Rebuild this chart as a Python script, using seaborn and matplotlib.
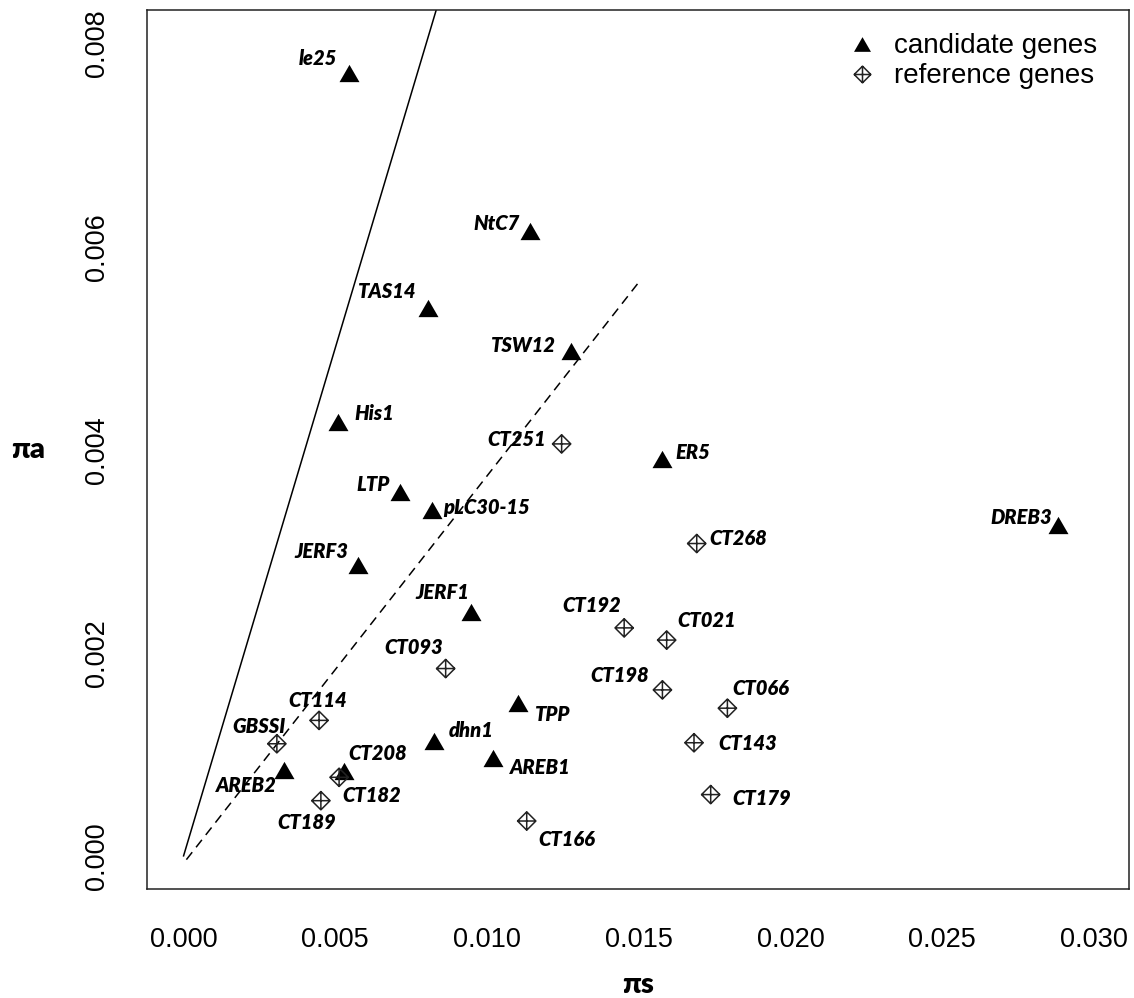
import matplotlib
matplotlib.use("Agg")
import matplotlib.pyplot as plt
from matplotlib.path import Path
from matplotlib.lines import Line2D
import seaborn as sns

# Nucleotide diversity at synonymous (pi_s) and non-synonymous (pi_a) sites
candidate_genes = ["le25", "NtC7", "TAS14", "TSW12", "His1", "LTP", "pLC30-15", "JERF3",
                   "JERF1", "ER5", "DREB3", "TPP", "dhn1", "AREB1", "AREB2", "CT208"]
candidate_pi_s = [0.00544, 0.01142, 0.00805, 0.01277, 0.00509, 0.00714, 0.00818, 0.00574,
                  0.00948, 0.01576, 0.02882, 0.01101, 0.00824, 0.01021, 0.00332, 0.00529]
candidate_pi_a = [0.00771, 0.00615, 0.00540, 0.00497, 0.00428, 0.00359, 0.00341, 0.00287,
                  0.00241, 0.00391, 0.00326, 0.00151, 0.00114, 0.00097, 0.00085, 0.00084]

reference_genes = ["CT251", "CT268", "CT192", "CT021", "CT093", "CT198", "CT066", "CT114",
                   "CT143", "GBSSI", "CT182", "CT179", "CT189", "CT166"]
reference_pi_s = [0.01246, 0.01691, 0.01452, 0.01592, 0.00864, 0.01578, 0.01792, 0.00447,
                  0.01682, 0.00308, 0.00513, 0.01737, 0.00453, 0.01131]
reference_pi_a = [0.00406, 0.00308, 0.00225, 0.00213, 0.00185, 0.00164, 0.00146, 0.00134,
                  0.00112, 0.00111, 0.00078, 0.00061, 0.00055, 0.00035]

# Guide lines: pi_a = pi_s (solid) and the dashed ratio line
neutral_s = [0.0, 0.0095]
neutral_a = [0.0, 0.0095]
ratio_s = [0.0001, 0.0150]
ratio_a = [-0.00003, 0.00565]

x_ticks = [0.000, 0.005, 0.010, 0.015, 0.020, 0.025, 0.030]
y_ticks = [0.000, 0.002, 0.004, 0.006, 0.008]
legend_labels = ["candidate genes", "reference genes"]

# Label placement around each marker: alignment, dx, dy (pixels, baseline anchored)
label_place = {
    "le25": ("right", -11, 7.7), "NtC7": ("right", -10, 1.7), "TAS14": ("right", -11.7, 9.6),
    "TSW12": ("right", -15, -0.7), "His1": ("left", 16.6, 1.3), "LTP": ("right", -10.7, 1),
    "pLC30-15": ("left", 11, -4), "JERF3": ("right", -9, 6.4), "JERF1": ("right", -1.7, 12.7),
    "ER5": ("left", 13.3, 0), "DREB3": ("right", -6.6, 1), "TPP": ("left", 17.3, -18),
    "dhn1": ("left", 15, 4), "AREB1": ("left", 16.7, -16), "AREB2": ("right", -7.3, -21.7),
    "CT208": ("left", 4.3, 11), "CT251": ("right", -15.7, -1.7), "CT268": ("left", 12.3, -1),
    "CT192": ("right", -3, 15.6), "CT021": ("left", 11, 13.3), "CT093": ("right", -3, 14.7),
    "CT198": ("right", -13.6, 8.3), "CT066": ("left", 5.4, 13.3), "CT114": ("center", -1.5, 13.3),
    "CT143": ("left", 24.3, -7.7), "GBSSI": ("right", 9, 10.7), "CT182": ("left", 3.3, -24.6),
    "CT179": ("left", 22, -10), "CT189": ("center", -14.7, -28.6), "CT166": ("left", 11.6, -25),
}

sns.set_style("white")
plt.rcParams["font.family"] = ["Liberation Sans", "DejaVu Sans"]
plt.rcParams["lines.scale_dashes"] = False
plt.rcParams["text.color"] = "black"
plt.rcParams["axes.labelcolor"] = "black"

M, L, C = Path.MOVETO, Path.LINETO, Path.CLOSEPOLY
triangle = Path([(-1, -0.866), (1, -0.866), (0, 0.866), (-1, -0.866)], [M, L, L, C])
diamond_plus = Path(
    [(0, 1), (1, 0), (0, -1), (-1, 0), (0, 1), (-1, 0), (1, 0), (0, -1), (0, 1)],
    [M, L, L, L, C, M, L, M, L],
)

fig = plt.figure(figsize=(11.34, 9.98), dpi=100)
ax = fig.add_axes([0.1294, 0.1089, 0.8665, 0.8811])

ax.plot(neutral_s, neutral_a, color="black", lw=1.1, solid_capstyle="butt")
ax.plot(ratio_s, ratio_a, color="black", lw=1.1, linestyle=(0, (6.8, 4.5)))

sns.scatterplot(x=candidate_pi_s, y=candidate_pi_a, marker=triangle, s=207,
                color="black", linewidth=0, ax=ax, zorder=3)
sns.scatterplot(x=reference_pi_s, y=reference_pi_a, marker=diamond_plus, s=174,
                color="black", facecolor="none", edgecolor="#222222", linewidth=1.1,
                ax=ax, zorder=3)

label_font = dict(fontsize=14.5, fontweight="heavy", fontstyle="italic",
                  family=["Lato", "DejaVu Sans"], color="black")
for names, xs, ys in ((candidate_genes, candidate_pi_s, candidate_pi_a),
                      (reference_genes, reference_pi_s, reference_pi_a)):
    for name, xv, yv in zip(names, xs, ys):
        ha, dx, dy = label_place[name]
        ax.annotate(name, xy=(xv, yv), xytext=(dx, dy), textcoords="offset pixels",
                    ha=ha, va="baseline", zorder=4, **label_font)

ax.set_xlim(-0.001206, 0.03116)
ax.set_ylim(-0.000322, 0.008329)
ax.set_xticks(x_ticks)
ax.set_xticklabels([f"{t:.3f}" for t in x_ticks])
ax.set_yticks(y_ticks)
ax.set_yticklabels([f"{t:.3f}" for t in y_ticks], rotation=90, va="center")

ax.tick_params(axis="both", direction="out", length=12.2, width=1.0, color="#222222",
               labelsize=19.5, labelcolor="black")
ax.tick_params(axis="x", pad=14.8)
ax.tick_params(axis="y", pad=13.9)

for sp in ax.spines.values():
    sp.set_visible(True)
    sp.set_color("#222222")
    sp.set_linewidth(1.1)

axis_font = dict(fontsize=21, fontweight="heavy", family=["Lato", "DejaVu Sans"],
                 color="black")
ax.set_xlabel("πs", **axis_font)
ax.set_ylabel("πa", rotation=0, **axis_font)
ax.xaxis.set_label_coords(0.5, -0.1088)
ax.xaxis.label.set_va("center")
ax.yaxis.set_label_coords(-0.1205, 0.5)
ax.yaxis.label.set_va("center")
ax.yaxis.label.set_ha("center")

handles = [
    Line2D([], [], linestyle="none", marker=triangle, markersize=12.2,
           markerfacecolor="black", markeredgewidth=0),
    Line2D([], [], linestyle="none", marker=diamond_plus, markersize=12.0,
           markerfacecolor="none", markeredgecolor="#222222", markeredgewidth=1.1),
]
ax.legend(handles, legend_labels, loc="upper left", bbox_to_anchor=(0.7142, 0.9735),
          frameon=False, borderpad=0, borderaxespad=0, handlelength=1.0,
          handletextpad=0.62, labelspacing=0.15,
          prop={"family": "Liberation Sans", "size": 20})

fig.savefig("out.png", dpi=100)
